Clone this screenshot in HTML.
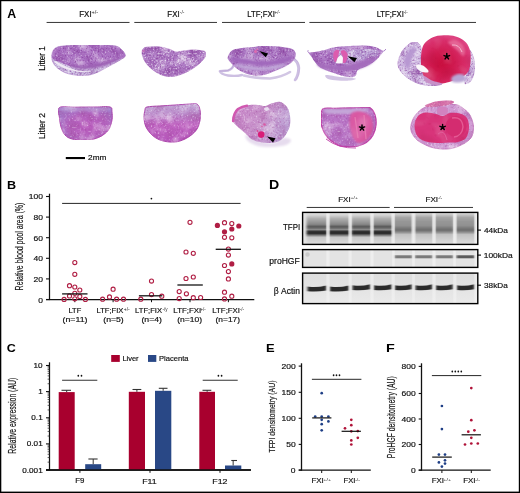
<!DOCTYPE html><html><head><meta charset="utf-8"><style>html,body{margin:0;padding:0;background:#fff;overflow:hidden}svg{display:block;will-change:transform}text{font-family:"Liberation Sans",sans-serif}</style></head><body>
<svg xmlns="http://www.w3.org/2000/svg" width="520" height="493" viewBox="0 0 520 493">
<defs>
<filter id="tex" x="0" y="0" width="100%" height="100%" color-interpolation-filters="sRGB"><feTurbulence type="fractalNoise" baseFrequency="0.6" numOctaves="2" seed="3" result="n0"/><feGaussianBlur in="n0" stdDeviation="0.4" result="n"/><feTurbulence type="fractalNoise" baseFrequency="0.09" numOctaves="2" seed="14" result="c"/><feColorMatrix in="c" type="matrix" values="0 0 0 0 1  0 0 0 0 1  0 0 0 0 1  1.6 0 0 0 -0.82" result="cw"/><feComposite in="cw" in2="SourceGraphic" operator="in" result="cwi"/><feColorMatrix in="c" type="matrix" values="0 0 0 0 0.5  0 0 0 0 0.2  0 0 0 0 0.58  -1.6 0 0 0 0.78" result="cd"/><feComposite in="cd" in2="SourceGraphic" operator="in" result="cdi"/><feColorMatrix in="n" type="matrix" values="0 0 0 0 1  0 0 0 0 1  0 0 0 0 1  1.7 0 0 0 -1" result="w"/><feComposite in="w" in2="SourceGraphic" operator="in" result="wi"/><feColorMatrix in="n" type="matrix" values="0 0 0 0 0.5  0 0 0 0 0.2  0 0 0 0 0.58  -2.2 0 0 0 1" result="d"/><feComposite in="d" in2="SourceGraphic" operator="in" result="di"/><feMerge><feMergeNode in="SourceGraphic"/><feMergeNode in="cwi"/><feMergeNode in="cdi"/><feMergeNode in="wi"/><feMergeNode in="di"/></feMerge></filter>
<filter id="texw" x="0" y="0" width="100%" height="100%" color-interpolation-filters="sRGB"><feTurbulence type="fractalNoise" baseFrequency="0.6" numOctaves="2" seed="5" result="n0"/><feGaussianBlur in="n0" stdDeviation="0.4" result="n"/><feTurbulence type="fractalNoise" baseFrequency="0.09" numOctaves="2" seed="16" result="c"/><feColorMatrix in="c" type="matrix" values="0 0 0 0 1  0 0 0 0 1  0 0 0 0 1  1.6 0 0 0 -0.82" result="cw"/><feComposite in="cw" in2="SourceGraphic" operator="in" result="cwi"/><feColorMatrix in="c" type="matrix" values="0 0 0 0 0.5  0 0 0 0 0.2  0 0 0 0 0.58  -1.6 0 0 0 0.78" result="cd"/><feComposite in="cd" in2="SourceGraphic" operator="in" result="cdi"/><feColorMatrix in="n" type="matrix" values="0 0 0 0 1  0 0 0 0 1  0 0 0 0 1  2.2 0 0 0 -1.2" result="w"/><feComposite in="w" in2="SourceGraphic" operator="in" result="wi"/><feColorMatrix in="n" type="matrix" values="0 0 0 0 0.5  0 0 0 0 0.2  0 0 0 0 0.58  -2 0 0 0 0.92" result="d"/><feComposite in="d" in2="SourceGraphic" operator="in" result="di"/><feMerge><feMergeNode in="SourceGraphic"/><feMergeNode in="cwi"/><feMergeNode in="cdi"/><feMergeNode in="wi"/><feMergeNode in="di"/></feMerge></filter>
<filter id="texp" x="0" y="0" width="100%" height="100%" color-interpolation-filters="sRGB"><feTurbulence type="fractalNoise" baseFrequency="0.55" numOctaves="2" seed="9" result="n0"/><feGaussianBlur in="n0" stdDeviation="0.5" result="n"/><feTurbulence type="fractalNoise" baseFrequency="0.09" numOctaves="2" seed="20" result="c"/><feColorMatrix in="c" type="matrix" values="0 0 0 0 1  0 0 0 0 1  0 0 0 0 1  1.3 0 0 0 -0.67" result="cw"/><feComposite in="cw" in2="SourceGraphic" operator="in" result="cwi"/><feColorMatrix in="c" type="matrix" values="0 0 0 0 0.62  0 0 0 0 0.28  0 0 0 0 0.6  -1.3 0 0 0 0.63" result="cd"/><feComposite in="cd" in2="SourceGraphic" operator="in" result="cdi"/><feColorMatrix in="n" type="matrix" values="0 0 0 0 1  0 0 0 0 1  0 0 0 0 1  1.6 0 0 0 -0.95" result="w"/><feComposite in="w" in2="SourceGraphic" operator="in" result="wi"/><feColorMatrix in="n" type="matrix" values="0 0 0 0 0.62  0 0 0 0 0.28  0 0 0 0 0.6  -1.4 0 0 0 0.62" result="d"/><feComposite in="d" in2="SourceGraphic" operator="in" result="di"/><feMerge><feMergeNode in="SourceGraphic"/><feMergeNode in="cwi"/><feMergeNode in="cdi"/><feMergeNode in="wi"/><feMergeNode in="di"/></feMerge></filter>
<filter id="texs" x="0" y="0" width="100%" height="100%" color-interpolation-filters="sRGB"><feTurbulence type="fractalNoise" baseFrequency="0.35" numOctaves="2" seed="7" result="n0"/><feGaussianBlur in="n0" stdDeviation="0.8" result="n"/><feTurbulence type="fractalNoise" baseFrequency="0.06" numOctaves="2" seed="18" result="c"/><feColorMatrix in="c" type="matrix" values="0 0 0 0 1  0 0 0 0 1  0 0 0 0 1  0.55 0 0 0 -0.295" result="cw"/><feComposite in="cw" in2="SourceGraphic" operator="in" result="cwi"/><feColorMatrix in="c" type="matrix" values="0 0 0 0 0.6  0 0 0 0 0.04  0 0 0 0 0.2  -0.55 0 0 0 0.255" result="cd"/><feComposite in="cd" in2="SourceGraphic" operator="in" result="cdi"/><feColorMatrix in="n" type="matrix" values="0 0 0 0 1  0 0 0 0 1  0 0 0 0 1  1 0 0 0 -0.62" result="w"/><feComposite in="w" in2="SourceGraphic" operator="in" result="wi"/><feColorMatrix in="n" type="matrix" values="0 0 0 0 0.6  0 0 0 0 0.04  0 0 0 0 0.2  -1.4 0 0 0 0.6" result="d"/><feComposite in="d" in2="SourceGraphic" operator="in" result="di"/><feMerge><feMergeNode in="SourceGraphic"/><feMergeNode in="cwi"/><feMergeNode in="cdi"/><feMergeNode in="wi"/><feMergeNode in="di"/></feMerge></filter>
<filter id="blur1"><feGaussianBlur stdDeviation="1.2"/></filter>
<filter id="blur05"><feGaussianBlur stdDeviation="0.6"/></filter>
<filter id="blur2"><feGaussianBlur stdDeviation="2.5"/></filter>
</defs>
<rect x="0" y="0" width="520" height="493" fill="#fff"/>
<line x1="46.60" y1="22.45" x2="129.50" y2="22.45" stroke="#363636" stroke-width="1.00"/>
<line x1="134.30" y1="22.45" x2="217.00" y2="22.45" stroke="#363636" stroke-width="1.00"/>
<line x1="222.00" y1="22.45" x2="305.00" y2="22.45" stroke="#363636" stroke-width="1.00"/>
<line x1="309.40" y1="22.45" x2="476.00" y2="22.45" stroke="#363636" stroke-width="1.00"/>
<rect x="65.80" y="157.00" width="19.20" height="2.10" fill="#000"/>
<path d="M51.8,57.0 C51.8,55.2 52.1,52.6 53.0,51.0 C53.9,49.4 54.8,48.1 57.0,47.2 C59.2,46.3 62.2,46.1 66.0,45.8 C69.8,45.5 75.2,45.3 80.0,45.2 C84.8,45.1 90.3,45.0 95.0,45.0 C99.7,45.0 104.3,45.0 108.0,45.3 C111.7,45.5 114.7,45.7 117.0,46.5 C119.3,47.3 120.6,48.5 122.0,50.0 C123.4,51.5 125.6,54.1 125.3,55.8 C125.0,57.5 122.5,58.4 120.0,60.0 C117.5,61.6 113.3,63.7 110.0,65.5 C106.7,67.3 103.3,69.5 100.0,71.0 C96.7,72.5 93.7,74.1 90.0,74.8 C86.3,75.5 82.0,75.6 78.0,75.3 C74.0,75.0 69.5,74.3 66.0,73.0 C62.5,71.7 59.2,69.3 57.0,67.5 C54.8,65.7 53.9,63.8 53.0,62.0 C52.1,60.2 51.8,58.8 51.8,57.0 Z" fill="#c8b6de" filter="url(#texw)" stroke="#a878c4" stroke-width="0.6"/>
<path d="M51.8,57.0 C51.5,55.5 52.1,52.6 53.0,51.0 C53.9,49.4 54.8,48.1 57.0,47.2 C59.2,46.3 62.2,46.1 66.0,45.8 C69.8,45.5 75.2,45.3 80.0,45.2 C84.8,45.1 90.3,45.0 95.0,45.0 C99.7,45.0 104.3,45.0 108.0,45.3 C111.7,45.5 114.7,45.7 117.0,46.5 C119.3,47.3 120.6,48.5 122.0,50.0 C123.4,51.5 125.6,54.3 125.3,55.8 C125.0,57.3 122.5,57.9 120.0,59.0 C117.5,60.1 113.7,61.4 110.0,62.5 C106.3,63.6 102.2,64.7 98.0,65.5 C93.8,66.3 89.3,67.3 85.0,67.5 C80.7,67.7 75.8,67.2 72.0,66.5 C68.2,65.8 64.8,64.1 62.0,63.0 C59.2,61.9 56.7,61.0 55.0,60.0 C53.3,59.0 52.1,58.5 51.8,57.0 Z" fill="#ac74c4" filter="url(#tex)"/>
<path d="M70.0,65.0 C71.8,64.7 79.3,65.8 84.0,65.5 C88.7,65.2 93.7,64.4 98.0,63.5 C102.3,62.6 106.5,61.0 110.0,60.0 C113.5,59.0 118.5,57.1 119.0,57.5 C119.5,57.9 116.2,60.9 113.0,62.5 C109.8,64.1 104.7,65.9 100.0,67.0 C95.3,68.1 89.5,68.9 85.0,69.0 C80.5,69.1 75.5,68.2 73.0,67.5 C70.5,66.8 68.2,65.3 70.0,65.0 Z" fill="#9c60b4" filter="url(#blur1)"/>
<path d="M55.0,61.0 C56.5,61.4 61.2,64.4 65.0,66.0 C68.8,67.6 73.5,69.6 78.0,70.5 C82.5,71.4 91.7,71.2 92.0,71.5 C92.3,71.8 84.3,72.4 80.0,72.0 C75.7,71.6 70.0,70.4 66.0,69.0 C62.0,67.6 57.8,64.8 56.0,63.5 C54.2,62.2 53.5,60.6 55.0,61.0 Z" fill="#efe8f4" filter="url(#blur05)"/>
<path d="M142.0,52.0 C142.2,50.5 142.7,48.8 144.0,48.0 C145.3,47.2 147.3,47.2 150.0,47.0 C152.7,46.8 156.7,46.6 160.0,47.0 C163.3,47.4 167.3,48.7 170.0,49.5 C172.7,50.3 173.8,51.8 176.0,52.0 C178.2,52.2 180.3,51.3 183.0,51.0 C185.7,50.7 189.2,50.1 192.0,50.0 C194.8,49.9 197.8,50.2 200.0,50.5 C202.2,50.8 204.7,50.9 205.5,52.0 C206.3,53.1 205.9,55.2 205.0,57.0 C204.1,58.8 202.2,61.0 200.0,63.0 C197.8,65.0 195.0,67.2 192.0,69.0 C189.0,70.8 185.3,72.8 182.0,74.0 C178.7,75.2 175.3,76.3 172.0,76.5 C168.7,76.7 165.2,76.1 162.0,75.0 C158.8,73.9 155.7,72.0 153.0,70.0 C150.3,68.0 147.7,65.2 146.0,63.0 C144.3,60.8 143.7,58.8 143.0,57.0 C142.3,55.2 141.8,53.5 142.0,52.0 Z" fill="#b07ec6" filter="url(#texw)" stroke="#a060b8" stroke-width="0.5"/>
<circle cx="143.50" cy="51.00" r="1.30" fill="#c070b8" stroke="none" stroke-width="1.00"/>
<path d="M234,64 Q233,69 228,70.5 Q222,71 219.8,71.2 Q221,74.5 228,75.5 Q236,76.5 242,75" fill="none" stroke="#cdbfe2" stroke-width="2.4" stroke-linecap="round" stroke-linejoin="round"/>
<path d="M234,64 Q233,69 228,70.5 Q222,71 219.8,71.2" fill="none" stroke="#b69ad2" stroke-width="0.6"/>
<path d="M292,58 Q298,61 298.5,68 Q298.5,75 295,80" fill="none" stroke="#cdbfe2" stroke-width="2.6" stroke-linecap="round"/>
<path d="M293.5,58 Q299.5,61 299.8,68 Q299.8,75 296.5,80.3" fill="none" stroke="#b69ad2" stroke-width="0.5"/>
<path d="M244,75.5 Q256,78.5 270,78.5 Q282,77 290,72" fill="none" stroke="#d2c6e4" stroke-width="2.6" stroke-linecap="round"/>
<path d="M227.7,57.5 C227.9,56.2 228.9,53.8 230.0,52.5 C231.1,51.2 232.2,50.2 234.2,49.5 C236.2,48.8 239.3,48.4 242.0,48.0 C244.7,47.6 247.0,47.6 250.3,47.3 C253.6,47.0 257.9,46.3 262.0,46.1 C266.1,45.9 271.2,46.1 275.0,46.3 C278.8,46.5 282.1,47.0 285.0,47.5 C287.9,48.0 290.6,48.1 292.3,49.0 C294.1,49.9 295.1,51.5 295.5,53.0 C295.9,54.5 295.8,56.3 295.0,58.0 C294.2,59.7 292.8,61.5 291.0,63.0 C289.2,64.5 286.7,65.7 284.0,67.0 C281.3,68.3 278.2,69.7 275.0,71.0 C271.8,72.3 268.3,74.0 265.0,74.7 C261.7,75.5 258.2,75.7 255.0,75.5 C251.8,75.3 248.8,74.5 246.0,73.5 C243.2,72.5 240.3,71.1 238.0,69.5 C235.7,67.9 233.6,65.6 232.0,64.0 C230.4,62.4 229.2,61.1 228.5,60.0 C227.8,58.9 227.4,58.8 227.7,57.5 Z" fill="#ae7cc6" filter="url(#tex)"/>
<path d="M230.0,57.0 C232.0,56.7 240.0,58.3 245.0,59.0 C250.0,59.7 255.0,60.8 260.0,61.0 C265.0,61.2 269.7,60.9 275.0,60.0 C280.3,59.1 289.5,55.3 292.0,55.5 C294.5,55.7 292.7,59.5 290.0,61.0 C287.3,62.5 281.0,63.8 276.0,64.5 C271.0,65.2 265.3,65.7 260.0,65.5 C254.7,65.3 248.5,64.2 244.0,63.5 C239.5,62.8 235.3,62.1 233.0,61.0 C230.7,59.9 228.0,57.3 230.0,57.0 Z" fill="#a068bc" filter="url(#blur1)"/>
<path d="M236.0,64.0 C238.0,63.8 245.2,65.5 250.0,66.0 C254.8,66.5 259.7,67.3 265.0,67.0 C270.3,66.7 278.5,64.3 282.0,64.0 C285.5,63.7 287.0,64.2 286.0,65.0 C285.0,65.8 280.0,68.1 276.0,69.0 C272.0,69.9 266.7,70.4 262.0,70.5 C257.3,70.6 252.0,70.1 248.0,69.5 C244.0,68.9 240.0,67.9 238.0,67.0 C236.0,66.1 234.0,64.2 236.0,64.0 Z" fill="#c0a6d8" filter="url(#blur1)"/>
<circle cx="255.50" cy="51.50" r="1.50" fill="#dc6cb0" stroke="none" stroke-width="1.00"/>
<circle cx="257.20" cy="49.40" r="0.90" fill="#dc6cb0" stroke="none" stroke-width="1.00"/>
<polygon points="259.3,51.1 268.1,53.5 265.7,57.2" fill="#000"/>
<path d="M326.0,75.0 C328.0,74.7 335.7,76.5 340.0,77.0 C344.3,77.5 349.3,77.7 352.0,78.0 C354.7,78.3 356.3,78.6 356.0,79.0 C355.7,79.4 353.0,80.2 350.0,80.5 C347.0,80.8 341.7,80.8 338.0,80.5 C334.3,80.2 330.0,79.9 328.0,79.0 C326.0,78.1 324.0,75.3 326.0,75.0 Z" fill="#d2c4e4" filter="url(#blur05)"/>
<path d="M308.8,52.9 C309.0,52.3 310.5,52.5 312.0,52.3 C313.5,52.1 315.8,51.9 318.0,51.5 C320.2,51.1 322.2,50.7 325.0,50.0 C327.8,49.3 330.5,47.9 334.7,47.3 C338.9,46.6 344.9,46.4 350.0,46.1 C355.1,45.8 360.8,45.5 365.0,45.6 C369.2,45.8 372.5,46.4 375.0,47.0 C377.5,47.6 378.6,48.6 380.0,49.3 C381.4,50.0 383.0,50.4 383.2,51.3 C383.4,52.2 382.2,53.0 381.0,54.5 C379.8,56.0 378.1,58.4 375.9,60.2 C373.7,62.0 371.0,63.9 368.0,65.5 C365.0,67.1 360.0,68.4 358.0,70.0 C356.0,71.6 357.0,73.8 356.0,75.0 C355.0,76.2 353.8,77.0 352.0,77.2 C350.2,77.5 347.3,77.0 345.0,76.5 C342.7,76.0 340.8,75.4 338.0,74.5 C335.2,73.6 331.0,72.2 328.0,71.0 C325.0,69.8 322.4,69.0 320.2,67.5 C318.0,66.0 316.5,63.9 315.0,62.0 C313.5,60.1 312.0,57.5 311.0,56.0 C310.0,54.5 308.6,53.5 308.8,52.9 Z" fill="#ae7ac6" filter="url(#tex)"/>
<path d="M308.8,52.9 Q307,51 308.2,50.2" fill="none" stroke="#b088cc" stroke-width="1"/>
<path d="M383.2,51.3 Q385.5,50.5 385.8,49" fill="none" stroke="#b088cc" stroke-width="1"/>
<path d="M346.0,53.0 C347.5,51.4 352.3,50.2 356.0,49.5 C359.7,48.8 364.3,48.8 368.0,49.0 C371.7,49.2 376.7,49.8 378.0,51.0 C379.3,52.2 378.0,54.6 376.0,56.0 C374.0,57.4 369.7,58.7 366.0,59.5 C362.3,60.3 357.2,61.1 354.0,61.0 C350.8,60.9 348.3,60.3 347.0,59.0 C345.7,57.7 344.5,54.6 346.0,53.0 Z" fill="#baa0d6" filter="url(#texw)"/>
<path d="M318.0,63.0 C320.5,62.8 329.7,65.8 335.0,66.0 C340.3,66.2 345.0,65.5 350.0,64.5 C355.0,63.5 360.7,61.2 365.0,60.0 C369.3,58.8 375.2,56.8 376.0,57.5 C376.8,58.2 373.0,62.1 370.0,64.0 C367.0,65.9 362.2,67.8 358.0,69.0 C353.8,70.2 349.7,70.9 345.0,71.0 C340.3,71.1 334.2,70.2 330.0,69.5 C325.8,68.8 322.0,68.1 320.0,67.0 C318.0,65.9 315.5,63.2 318.0,63.0 Z" fill="#a46cbc" filter="url(#blur1)"/>
<path d="M333.5,53.0 C333.9,51.7 335.1,50.4 336.0,50.0 C336.9,49.6 338.6,49.7 339.0,50.5 C339.4,51.3 338.8,53.4 338.5,55.0 C338.2,56.6 337.6,58.8 337.0,60.0 C336.4,61.2 335.6,62.3 335.0,62.0 C334.4,61.7 333.8,59.5 333.5,58.0 C333.2,56.5 333.1,54.3 333.5,53.0 Z" fill="#dc5cae" filter="url(#blur05)"/>
<path d="M341.0,51.0 C341.5,50.4 343.4,50.0 344.5,50.5 C345.6,51.0 347.1,52.6 347.5,54.0 C347.9,55.4 347.4,57.5 347.0,59.0 C346.6,60.5 345.8,62.3 345.0,62.8 C344.2,63.3 342.8,63.0 342.5,62.0 C342.2,61.0 343.2,58.3 343.0,57.0 C342.8,55.7 341.8,55.0 341.5,54.0 C341.2,53.0 340.5,51.6 341.0,51.0 Z" fill="#dc5cae" filter="url(#blur05)"/>
<polygon points="335.8,63.2 337.5,58.0 340.8,54.8 343.0,57.5 342.6,63.4" fill="#fbf7fb"/>
<polygon points="347.6,56.2 357.0,58.1 354.4,62.3" fill="#000"/>
<path d="M398.0,65.0 C397.6,62.3 398.7,59.5 399.5,57.0 C400.3,54.5 401.6,52.0 403.0,50.0 C404.4,48.0 406.4,46.3 408.0,45.0 C409.6,43.7 410.8,42.6 412.5,42.3 C414.2,42.0 416.6,42.0 418.0,43.0 C419.4,44.0 420.4,45.5 421.0,48.0 C421.6,50.5 421.2,54.8 421.5,58.0 C421.8,61.2 421.9,64.2 423.0,67.0 C424.1,69.8 425.8,72.7 428.0,75.0 C430.2,77.3 433.7,79.5 436.0,81.0 C438.3,82.5 442.7,83.2 442.0,84.0 C441.3,84.8 435.7,85.5 432.0,85.5 C428.3,85.5 423.7,85.0 420.0,84.0 C416.3,83.0 413.0,81.3 410.0,79.5 C407.0,77.7 404.0,75.4 402.0,73.0 C400.0,70.6 398.4,67.7 398.0,65.0 Z" fill="#cdb6e0" filter="url(#texw)" stroke="#b890d0" stroke-width="0.6"/>
<path d="M404.0,60.0 C404.3,57.3 406.5,54.2 408.0,52.0 C409.5,49.8 411.7,47.3 413.0,47.0 C414.3,46.7 416.2,48.2 416.0,50.0 C415.8,51.8 413.0,55.3 412.0,58.0 C411.0,60.7 411.0,64.3 410.0,66.0 C409.0,67.7 407.0,69.0 406.0,68.0 C405.0,67.0 403.7,62.7 404.0,60.0 Z" fill="#b898d2" filter="url(#blur1)"/>
<path d="M467.0,50.0 C467.3,47.8 469.8,49.3 471.0,51.0 C472.2,52.7 473.9,56.8 474.5,60.0 C475.1,63.2 475.1,67.0 474.8,70.0 C474.6,73.0 474.0,75.8 473.0,78.0 C472.0,80.2 470.5,82.1 469.0,83.0 C467.5,83.9 464.5,84.8 464.0,83.5 C463.5,82.2 465.2,78.2 466.0,75.0 C466.8,71.8 468.8,68.2 469.0,64.0 C469.2,59.8 466.7,52.2 467.0,50.0 Z" fill="#ccb4de" filter="url(#texw)"/>
<radialGradient id="g5" cx="0.42" cy="0.6" r="0.62"><stop offset="0" stop-color="#c80e3e"/><stop offset="0.4" stop-color="#d01a50"/><stop offset="0.75" stop-color="#d82c68"/><stop offset="1" stop-color="#dc3c7c"/></radialGradient>
<path d="M421.0,57.0 C421.2,53.3 421.7,48.9 423.0,46.0 C424.3,43.1 426.6,41.2 429.0,39.5 C431.4,37.8 434.3,36.5 437.5,35.8 C440.7,35.1 444.6,35.1 448.0,35.3 C451.4,35.5 455.0,36.0 458.0,37.2 C461.0,38.4 464.0,40.2 466.0,42.5 C468.0,44.8 469.4,47.9 470.2,51.0 C470.9,54.1 470.7,57.8 470.5,61.0 C470.3,64.2 470.1,67.5 469.0,70.0 C467.9,72.5 466.2,74.4 464.0,76.0 C461.8,77.6 458.8,78.4 456.0,79.5 C453.2,80.6 449.7,81.8 447.0,82.5 C444.3,83.2 442.5,83.7 440.0,83.5 C437.5,83.3 434.6,82.6 432.0,81.5 C429.4,80.4 426.2,79.2 424.5,77.0 C422.8,74.8 422.1,71.3 421.5,68.0 C420.9,64.7 420.8,60.7 421.0,57.0 Z" fill="url(#g5)" filter="url(#texs)"/>
<path d="M448.0,42.0 C448.5,41.0 452.7,39.7 455.0,40.0 C457.3,40.3 460.3,42.2 462.0,44.0 C463.7,45.8 464.8,49.0 465.0,51.0 C465.2,53.0 464.2,56.0 463.0,56.0 C461.8,56.0 459.8,52.7 458.0,51.0 C456.2,49.3 453.7,47.5 452.0,46.0 C450.3,44.5 447.5,43.0 448.0,42.0 Z" fill="#e8709e" filter="url(#blur1)" opacity="0.8"/>
<path d="M452,45 Q459,44 462,52" fill="none" stroke="#f4b4cc" stroke-width="1" filter="url(#blur05)"/>
<path d="M417.0,64.5 C418.1,64.2 421.2,64.6 423.0,65.5 C424.8,66.4 427.2,68.8 428.0,70.0 C428.8,71.2 428.7,72.2 427.5,72.5 C426.3,72.8 422.8,72.3 421.0,71.5 C419.2,70.7 417.2,68.7 416.5,67.5 C415.8,66.3 415.9,64.8 417.0,64.5 Z" fill="#faf6fa" filter="url(#blur05)"/>
<path d="M452.0,77.0 C453.0,75.8 456.0,74.3 458.0,74.0 C460.0,73.7 462.7,74.0 464.0,75.0 C465.3,76.0 466.8,78.8 466.0,80.0 C465.2,81.2 461.3,82.2 459.0,82.5 C456.7,82.8 453.2,82.4 452.0,81.5 C450.8,80.6 451.0,78.2 452.0,77.0 Z" fill="#b8a4d4" filter="url(#blur1)"/>
<path d="M424.0,76.0 C425.0,75.8 429.0,79.2 432.0,80.5 C435.0,81.8 441.3,82.8 442.0,83.5 C442.7,84.2 438.7,85.2 436.0,85.0 C433.3,84.8 428.0,83.5 426.0,82.0 C424.0,80.5 423.0,76.2 424.0,76.0 Z" fill="#c890c8" filter="url(#blur05)"/>
<path d="M446.80,56.50 L446.80,53.60 M446.80,56.50 L449.56,55.60 M446.80,56.50 L448.50,58.85 M446.80,56.50 L445.10,58.85 M446.80,56.50 L444.04,55.60 " stroke="#000" stroke-width="1.50" stroke-linecap="round" fill="none"/>
<radialGradient id="g6" cx="0.55" cy="0.6" r="0.62"><stop offset="0" stop-color="#ba5cbe"/><stop offset="0.6" stop-color="#b466c0"/><stop offset="1" stop-color="#a47ccc"/></radialGradient>
<path d="M59.5,107.5 C62.1,105.7 69.1,107.3 75.0,107.2 C80.9,107.1 89.2,107.0 95.0,107.0 C100.8,107.0 107.2,106.2 110.0,107.0 C112.8,107.8 111.7,109.8 112.0,112.0 C112.3,114.2 112.5,117.2 112.0,120.0 C111.5,122.8 110.5,126.5 109.0,129.0 C107.5,131.5 105.5,133.3 103.0,135.0 C100.5,136.7 97.2,138.2 94.0,139.0 C90.8,139.8 87.7,140.0 84.0,140.0 C80.3,140.0 75.2,139.8 72.0,139.0 C68.8,138.2 66.8,137.0 65.0,135.0 C63.2,133.0 61.9,129.8 61.0,127.0 C60.1,124.2 59.8,121.2 59.5,118.0 C59.2,114.8 56.9,109.3 59.5,107.5 Z" fill="url(#g6)" filter="url(#texp)" stroke="#a83aa8" stroke-width="0.9"/>
<path d="M60.0,108.0 C62.5,107.3 73.3,107.6 80.0,107.5 C86.7,107.4 95.0,107.4 100.0,107.5 C105.0,107.6 109.2,107.4 110.0,108.0 C110.8,108.6 109.2,110.5 105.0,111.0 C100.8,111.5 91.7,110.9 85.0,111.0 C78.3,111.1 69.2,112.0 65.0,111.5 C60.8,111.0 57.5,108.7 60.0,108.0 Z" fill="#c0a0d4" filter="url(#blur1)" opacity="0.55"/>
<linearGradient id="g7" x1="0" y1="0" x2="0" y2="1"><stop offset="0" stop-color="#c4acd8"/><stop offset="0.28" stop-color="#bc8ccc"/><stop offset="0.55" stop-color="#c064c2"/><stop offset="1" stop-color="#b658bc"/></linearGradient>
<path d="M147.0,107.0 C149.5,106.3 155.3,106.3 160.0,106.0 C164.7,105.7 170.0,105.3 175.0,105.0 C180.0,104.7 186.3,104.2 190.0,104.0 C193.7,103.8 195.3,103.0 197.0,104.0 C198.7,105.0 199.5,107.3 200.0,110.0 C200.5,112.7 200.5,116.8 200.0,120.0 C199.5,123.2 198.7,126.3 197.0,129.0 C195.3,131.7 192.8,134.0 190.0,136.0 C187.2,138.0 183.3,140.0 180.0,141.0 C176.7,142.0 173.3,142.2 170.0,142.0 C166.7,141.8 163.0,141.2 160.0,140.0 C157.0,138.8 154.3,137.2 152.0,135.0 C149.7,132.8 147.3,129.8 146.0,127.0 C144.7,124.2 144.2,120.8 144.0,118.0 C143.8,115.2 144.5,111.8 145.0,110.0 C145.5,108.2 144.5,107.7 147.0,107.0 Z" fill="url(#g7)" filter="url(#texp)" stroke="#a83aa8" stroke-width="0.9"/>
<path d="M246.0,135.0 C247.7,134.8 253.7,138.7 258.0,140.0 C262.3,141.3 267.7,143.3 272.0,143.0 C276.3,142.7 280.8,138.5 284.0,138.0 C287.2,137.5 290.7,138.8 291.0,140.0 C291.3,141.2 289.2,143.8 286.0,145.0 C282.8,146.2 276.7,146.8 272.0,147.0 C267.3,147.2 262.0,147.0 258.0,146.0 C254.0,145.0 250.0,142.8 248.0,141.0 C246.0,139.2 244.3,135.2 246.0,135.0 Z" fill="#e6dcee" filter="url(#blur1)"/>
<linearGradient id="g8" x1="0" y1="0" x2="1" y2="0.3"><stop offset="0" stop-color="#cc8ccc"/><stop offset="0.6" stop-color="#c894cc"/><stop offset="1" stop-color="#bea0d4"/></linearGradient>
<path d="M232.4,119.9 C232.1,117.4 234.5,114.0 236.1,111.8 C237.7,109.6 239.5,107.9 241.8,106.8 C244.1,105.7 247.2,105.2 249.9,104.9 C252.6,104.6 255.4,104.8 258.0,105.0 C260.6,105.2 263.2,106.3 265.5,106.0 C267.8,105.7 269.4,104.0 271.8,103.3 C274.2,102.6 277.4,101.2 279.9,101.8 C282.4,102.4 285.1,104.6 286.8,106.8 C288.5,109.0 289.4,111.9 289.9,114.9 C290.4,117.9 290.5,122.0 290.0,125.0 C289.5,128.0 288.3,130.5 286.8,133.0 C285.3,135.5 283.5,138.2 281.0,139.9 C278.5,141.6 275.3,142.7 271.8,143.0 C268.3,143.3 263.3,142.6 260.0,142.0 C256.7,141.4 254.3,140.8 251.8,139.3 C249.3,137.8 247.3,135.1 245.0,133.0 C242.7,130.9 240.1,129.2 238.0,127.0 C235.9,124.8 232.7,122.4 232.4,119.9 Z" fill="url(#g8)" filter="url(#texp)"/>
<path d="M233.2,121 Q233.5,113 238,109 Q242,106.5 247,105.8" fill="none" stroke="#d058b0" stroke-width="2.6" stroke-linecap="round" filter="url(#blur05)"/>
<path d="M264.0,108.5 C264.2,107.8 266.7,106.8 267.5,107.0 C268.3,107.2 269.2,108.8 269.0,109.5 C268.8,110.2 266.8,111.2 266.0,111.0 C265.2,110.8 263.8,109.2 264.0,108.5 Z" fill="#eadcf0" filter="url(#blur05)"/>
<circle cx="261.20" cy="134.60" r="3.30" fill="#d81e78" stroke="none" stroke-width="1.00"/>
<circle cx="257.50" cy="131.00" r="1.00" fill="#d44a98" stroke="none" stroke-width="1.00"/>
<circle cx="264.50" cy="124.50" r="1.30" fill="#d85aa4" stroke="none" stroke-width="1.00"/>
<circle cx="262.00" cy="126.50" r="0.80" fill="#d85aa4" stroke="none" stroke-width="1.00"/>
<polygon points="267.0,136.5 275.5,138.3 273.0,142.4" fill="#000"/>
<path d="M323.1,108.8 C325.4,107.4 330.5,108.5 335.0,108.4 C339.5,108.3 345.5,108.1 350.0,108.0 C354.5,107.9 358.7,107.7 362.0,107.7 C365.3,107.7 367.8,106.6 370.0,107.8 C372.2,109.0 374.0,112.1 375.0,115.0 C376.0,117.9 376.3,121.7 376.0,125.0 C375.7,128.3 374.7,132.1 373.1,135.0 C371.5,137.9 368.8,140.7 366.3,142.5 C363.8,144.3 360.4,145.3 358.0,146.0 C355.6,146.7 354.2,146.8 351.9,146.9 C349.6,147.0 346.3,146.8 344.0,146.5 C341.7,146.2 340.8,146.4 338.1,145.0 C335.5,143.6 330.8,141.1 328.1,138.1 C325.4,135.1 323.0,130.4 321.9,126.9 C320.8,123.4 321.1,119.9 321.3,116.9 C321.5,113.9 320.8,110.2 323.1,108.8 Z" fill="#b874c6" filter="url(#texp)" stroke="#c040a8" stroke-width="1.3"/>
<path d="M324.0,109.5 C326.0,108.8 334.0,109.2 340.0,109.0 C346.0,108.8 355.2,108.6 360.0,108.6 C364.8,108.6 368.7,108.3 369.0,109.0 C369.3,109.7 366.0,112.2 362.0,113.0 C358.0,113.8 350.7,113.9 345.0,114.0 C339.3,114.1 331.5,114.2 328.0,113.5 C324.5,112.8 322.0,110.2 324.0,109.5 Z" fill="#c4a6d8" filter="url(#blur1)"/>
<g filter="url(#blur1)">
<path d="M351.0,114.0 C352.1,112.4 354.0,111.8 356.0,111.5 C358.0,111.2 360.7,111.2 363.0,112.0 C365.3,112.8 368.3,114.0 370.0,116.0 C371.7,118.0 372.7,121.2 373.0,124.0 C373.3,126.8 373.0,130.3 372.0,133.0 C371.0,135.7 369.0,138.3 367.0,140.0 C365.0,141.7 362.0,142.8 360.0,143.0 C358.0,143.2 356.3,142.3 355.0,141.0 C353.7,139.7 352.8,137.2 352.0,135.0 C351.2,132.8 350.4,130.3 350.0,128.0 C349.6,125.7 349.3,123.3 349.5,121.0 C349.7,118.7 349.9,115.6 351.0,114.0 Z" fill="#da5aa4" filter="url(#texs)"/>
</g>
<line x1="355.0" y1="117.0" x2="358.0" y2="138.0" stroke="#ea86b8" stroke-width="1.3" opacity="0.7" filter="url(#blur05)"/>
<line x1="364.0" y1="115.0" x2="366.0" y2="139.0" stroke="#ea86b8" stroke-width="1.3" opacity="0.7" filter="url(#blur05)"/>
<path d="M326,139 Q338,148.5 356,148" fill="none" stroke="#c040a8" stroke-width="0.9"/>
<path d="M362.00,127.80 L362.00,125.00 M362.00,127.80 L364.66,126.93 M362.00,127.80 L363.65,130.07 M362.00,127.80 L360.35,130.07 M362.00,127.80 L359.34,126.93 " stroke="#000" stroke-width="1.45" stroke-linecap="round" fill="none"/>
<path d="M410.8,129.6 C410.3,126.3 411.6,122.1 413.0,119.0 C414.4,115.9 416.9,113.1 419.4,110.9 C421.9,108.7 424.6,107.1 428.0,106.0 C431.4,104.9 435.4,104.8 440.0,104.5 C444.6,104.2 451.5,103.7 455.5,104.4 C459.5,105.2 461.6,107.2 464.0,109.0 C466.4,110.8 468.4,112.4 470.0,115.2 C471.6,118.0 473.2,122.5 473.5,126.0 C473.8,129.5 473.3,133.2 472.0,136.0 C470.7,138.8 468.4,140.7 465.6,142.6 C462.8,144.5 458.4,146.4 455.0,147.5 C451.6,148.6 448.9,149.0 445.4,149.1 C441.9,149.2 437.4,148.7 434.0,148.0 C430.6,147.3 428.2,146.3 425.2,144.8 C422.2,143.3 418.4,141.5 416.0,139.0 C413.6,136.5 411.3,132.9 410.8,129.6 Z" fill="#d09cd4" filter="url(#texp)" stroke="#c070b8" stroke-width="0.7"/>
<path d="M425.0,105.5 C426.0,104.6 431.8,102.3 436.0,101.5 C440.2,100.7 447.0,100.4 450.0,100.6 C453.0,100.8 454.7,101.7 454.0,102.5 C453.3,103.3 450.0,104.8 446.0,105.5 C442.0,106.2 433.5,107.0 430.0,107.0 C426.5,107.0 424.0,106.4 425.0,105.5 Z" fill="#d670a8" filter="url(#texp)"/>
<path d="M414.5,126.0 C414.5,122.5 416.1,118.2 418.0,116.0 C419.9,113.8 423.0,112.8 426.0,112.5 C429.0,112.2 433.2,113.4 436.0,114.0 C438.8,114.6 440.7,116.2 443.0,116.0 C445.3,115.8 447.2,113.4 450.0,113.0 C452.8,112.6 457.2,112.7 460.0,113.5 C462.8,114.3 465.5,115.6 467.0,118.0 C468.5,120.4 469.2,124.7 469.0,128.0 C468.8,131.3 467.8,135.7 466.0,138.0 C464.2,140.3 461.0,141.2 458.0,142.0 C455.0,142.8 451.0,142.3 448.0,142.5 C445.0,142.7 443.3,143.1 440.0,143.0 C436.7,142.9 431.7,143.0 428.0,142.0 C424.3,141.0 420.2,139.7 418.0,137.0 C415.8,134.3 414.5,129.5 414.5,126.0 Z" fill="#d8347a" filter="url(#texs)"/>
<circle cx="456.00" cy="126.50" r="10.50" fill="#d42c70" stroke="none" stroke-width="1.00"/>
<path d="M452,118 Q462,116 463,127 Q462,136 454,137" fill="none" stroke="#e45a94" stroke-width="1.4" filter="url(#blur05)"/>
<ellipse cx="442.5" cy="111" rx="5.5" ry="4.5" fill="#d282c0" filter="url(#blur05)"/>
<path d="M438,134 Q444,128 447,140" fill="none" stroke="#e0609a" stroke-width="1" filter="url(#blur05)"/>
<path d="M442.60,127.20 L442.60,124.40 M442.60,127.20 L445.26,126.33 M442.60,127.20 L444.25,129.47 M442.60,127.20 L440.95,129.47 M442.60,127.20 L439.94,126.33 " stroke="#000" stroke-width="1.45" stroke-linecap="round" fill="none"/>
<line x1="49.50" y1="193.70" x2="49.50" y2="300.10" stroke="#111" stroke-width="1.25"/>
<line x1="46.00" y1="299.50" x2="254.30" y2="299.50" stroke="#111" stroke-width="1.25"/>
<line x1="46.00" y1="299.50" x2="49.50" y2="299.50" stroke="#111" stroke-width="1.10"/>
<line x1="46.00" y1="278.90" x2="49.50" y2="278.90" stroke="#111" stroke-width="1.10"/>
<line x1="46.00" y1="258.30" x2="49.50" y2="258.30" stroke="#111" stroke-width="1.10"/>
<line x1="46.00" y1="237.70" x2="49.50" y2="237.70" stroke="#111" stroke-width="1.10"/>
<line x1="46.00" y1="217.10" x2="49.50" y2="217.10" stroke="#111" stroke-width="1.10"/>
<line x1="46.00" y1="196.50" x2="49.50" y2="196.50" stroke="#111" stroke-width="1.10"/>
<line x1="74.80" y1="299.50" x2="74.80" y2="302.20" stroke="#111" stroke-width="1.00"/>
<line x1="113.10" y1="299.50" x2="113.10" y2="302.20" stroke="#111" stroke-width="1.00"/>
<line x1="151.50" y1="299.50" x2="151.50" y2="302.20" stroke="#111" stroke-width="1.00"/>
<line x1="190.00" y1="299.50" x2="190.00" y2="302.20" stroke="#111" stroke-width="1.00"/>
<line x1="228.40" y1="299.50" x2="228.40" y2="302.20" stroke="#111" stroke-width="1.00"/>
<line x1="62.10" y1="203.40" x2="240.60" y2="203.40" stroke="#262626" stroke-width="1.00"/>
<circle cx="74.80" cy="262.60" r="2.05" fill="none" stroke="#b01e44" stroke-width="1.10"/>
<circle cx="74.80" cy="274.30" r="2.05" fill="none" stroke="#b01e44" stroke-width="1.10"/>
<circle cx="69.50" cy="285.70" r="2.05" fill="none" stroke="#b01e44" stroke-width="1.10"/>
<circle cx="74.80" cy="287.00" r="2.05" fill="none" stroke="#b01e44" stroke-width="1.10"/>
<circle cx="79.80" cy="290.00" r="2.05" fill="none" stroke="#b01e44" stroke-width="1.10"/>
<circle cx="74.80" cy="293.30" r="2.05" fill="none" stroke="#b01e44" stroke-width="1.10"/>
<circle cx="69.50" cy="295.90" r="2.05" fill="none" stroke="#b01e44" stroke-width="1.10"/>
<circle cx="79.80" cy="296.40" r="2.05" fill="none" stroke="#b01e44" stroke-width="1.10"/>
<circle cx="64.10" cy="299.40" r="2.05" fill="none" stroke="#b01e44" stroke-width="1.10"/>
<circle cx="74.80" cy="298.80" r="2.05" fill="none" stroke="#b01e44" stroke-width="1.10"/>
<circle cx="85.40" cy="299.40" r="2.05" fill="none" stroke="#b01e44" stroke-width="1.10"/>
<circle cx="102.60" cy="299.20" r="2.05" fill="none" stroke="#b01e44" stroke-width="1.10"/>
<circle cx="109.50" cy="296.90" r="2.05" fill="none" stroke="#b01e44" stroke-width="1.10"/>
<circle cx="113.10" cy="289.20" r="2.05" fill="none" stroke="#b01e44" stroke-width="1.10"/>
<circle cx="116.60" cy="299.20" r="2.05" fill="none" stroke="#b01e44" stroke-width="1.10"/>
<circle cx="123.50" cy="299.20" r="2.05" fill="none" stroke="#b01e44" stroke-width="1.10"/>
<circle cx="140.80" cy="299.20" r="2.05" fill="none" stroke="#b01e44" stroke-width="1.10"/>
<circle cx="151.50" cy="281.10" r="2.05" fill="none" stroke="#b01e44" stroke-width="1.10"/>
<circle cx="151.50" cy="294.60" r="2.05" fill="none" stroke="#b01e44" stroke-width="1.10"/>
<circle cx="161.80" cy="296.20" r="2.05" fill="none" stroke="#b01e44" stroke-width="1.10"/>
<circle cx="190.00" cy="222.30" r="2.05" fill="none" stroke="#b01e44" stroke-width="1.10"/>
<circle cx="186.00" cy="252.00" r="2.05" fill="none" stroke="#b01e44" stroke-width="1.10"/>
<circle cx="193.30" cy="253.30" r="2.05" fill="none" stroke="#b01e44" stroke-width="1.10"/>
<circle cx="186.00" cy="278.50" r="2.05" fill="none" stroke="#b01e44" stroke-width="1.10"/>
<circle cx="193.30" cy="277.00" r="2.05" fill="none" stroke="#b01e44" stroke-width="1.10"/>
<circle cx="179.20" cy="291.60" r="2.05" fill="none" stroke="#b01e44" stroke-width="1.10"/>
<circle cx="186.40" cy="293.80" r="2.05" fill="none" stroke="#b01e44" stroke-width="1.10"/>
<circle cx="179.20" cy="298.60" r="2.05" fill="none" stroke="#b01e44" stroke-width="1.10"/>
<circle cx="193.30" cy="297.70" r="2.05" fill="none" stroke="#b01e44" stroke-width="1.10"/>
<circle cx="200.60" cy="297.50" r="2.05" fill="none" stroke="#b01e44" stroke-width="1.10"/>
<circle cx="224.50" cy="222.70" r="2.05" fill="none" stroke="#b01e44" stroke-width="1.10"/>
<circle cx="231.80" cy="223.60" r="2.05" fill="none" stroke="#b01e44" stroke-width="1.10"/>
<circle cx="224.50" cy="237.30" r="2.05" fill="none" stroke="#b01e44" stroke-width="1.10"/>
<circle cx="231.80" cy="237.80" r="2.05" fill="none" stroke="#b01e44" stroke-width="1.10"/>
<circle cx="228.40" cy="249.10" r="2.05" fill="none" stroke="#b01e44" stroke-width="1.10"/>
<circle cx="228.40" cy="255.10" r="2.05" fill="none" stroke="#b01e44" stroke-width="1.10"/>
<circle cx="224.50" cy="265.50" r="2.05" fill="none" stroke="#b01e44" stroke-width="1.10"/>
<circle cx="228.40" cy="271.60" r="2.05" fill="none" stroke="#b01e44" stroke-width="1.10"/>
<circle cx="228.40" cy="278.90" r="2.05" fill="none" stroke="#b01e44" stroke-width="1.10"/>
<circle cx="224.50" cy="292.20" r="2.05" fill="none" stroke="#b01e44" stroke-width="1.10"/>
<circle cx="231.80" cy="296.20" r="2.05" fill="none" stroke="#b01e44" stroke-width="1.10"/>
<circle cx="224.50" cy="298.90" r="2.05" fill="none" stroke="#b01e44" stroke-width="1.10"/>
<circle cx="217.40" cy="225.40" r="2.60" fill="#b01e44" stroke="none" stroke-width="1.00"/>
<circle cx="238.80" cy="226.00" r="2.60" fill="#b01e44" stroke="none" stroke-width="1.00"/>
<circle cx="224.50" cy="231.80" r="2.60" fill="#b01e44" stroke="none" stroke-width="1.00"/>
<circle cx="231.80" cy="229.00" r="2.60" fill="#b01e44" stroke="none" stroke-width="1.00"/>
<circle cx="231.80" cy="263.90" r="2.60" fill="#b01e44" stroke="none" stroke-width="1.00"/>
<line x1="62.10" y1="293.90" x2="87.50" y2="293.90" stroke="#151515" stroke-width="1.30"/>
<line x1="138.90" y1="295.80" x2="162.30" y2="295.80" stroke="#151515" stroke-width="1.30"/>
<line x1="177.40" y1="285.00" x2="202.80" y2="285.00" stroke="#151515" stroke-width="1.30"/>
<line x1="215.70" y1="249.30" x2="240.90" y2="249.30" stroke="#151515" stroke-width="1.30"/>
<line x1="306.70" y1="207.45" x2="389.70" y2="207.45" stroke="#363636" stroke-width="1.00"/>
<line x1="394.00" y1="207.45" x2="473.00" y2="207.45" stroke="#363636" stroke-width="1.00"/>
<clipPath id="c1"><rect x="302.5" y="212" width="175" height="32.3"/></clipPath>
<clipPath id="c2"><rect x="302.5" y="249.4" width="175" height="17.9"/></clipPath>
<clipPath id="c3"><rect x="302.5" y="273" width="175" height="30.6"/></clipPath>
<filter id="bb" x="-5%" y="-20%" width="110%" height="140%"><feGaussianBlur stdDeviation="1.1 0.6"/></filter>
<filter id="bb2" x="-5%" y="-20%" width="110%" height="140%"><feGaussianBlur stdDeviation="0.9 0.6"/></filter>
<linearGradient id="tfL" x1="0" y1="0" x2="0" y2="1"><stop offset="0" stop-color="#e6e6e6"/><stop offset="0.1" stop-color="#d4d4d4"/><stop offset="0.2" stop-color="#b0b0b0"/><stop offset="0.3" stop-color="#9a9a9a"/><stop offset="0.38" stop-color="#888888"/><stop offset="0.45" stop-color="#5c5c5c"/><stop offset="0.5" stop-color="#6a6a6a"/><stop offset="0.54" stop-color="#8c8c8c"/><stop offset="0.6" stop-color="#343434"/><stop offset="0.66" stop-color="#262626"/><stop offset="0.72" stop-color="#7a7a7a"/><stop offset="0.78" stop-color="#c8c8c8"/><stop offset="1" stop-color="#dcdcdc"/></linearGradient>
<linearGradient id="tfR" x1="0" y1="0" x2="0" y2="1"><stop offset="0" stop-color="#e4e4e4"/><stop offset="0.08" stop-color="#c8c8c8"/><stop offset="0.17" stop-color="#a6a6a6"/><stop offset="0.3" stop-color="#969696"/><stop offset="0.42" stop-color="#909090"/><stop offset="0.5" stop-color="#7a7a7a"/><stop offset="0.56" stop-color="#6c6c6c"/><stop offset="0.62" stop-color="#8a8a8a"/><stop offset="0.7" stop-color="#c2c2c2"/><stop offset="1" stop-color="#dcdcdc"/></linearGradient>
<g clip-path="url(#c1)">
<rect x="302.50" y="212.00" width="175.00" height="32.30" fill="#e4e4e4"/>
<g filter="url(#bb)">
<rect x="306.50" y="212.00" width="20.50" height="32.30" fill="url(#tfL)"/>
<rect x="329.00" y="212.00" width="20.50" height="32.30" fill="url(#tfL)"/>
<rect x="351.50" y="212.00" width="19.50" height="32.30" fill="url(#tfL)"/>
<rect x="373.00" y="212.00" width="19.50" height="32.30" fill="url(#tfL)"/>
<rect x="394.00" y="212.00" width="18.50" height="32.30" fill="url(#tfR)"/>
<rect x="414.50" y="212.00" width="18.50" height="32.30" fill="url(#tfR)"/>
<rect x="435.00" y="212.00" width="18.50" height="32.30" fill="url(#tfR)"/>
<rect x="456.00" y="212.00" width="19.00" height="32.30" fill="url(#tfR)"/>
</g>
<rect x="326.5" y="212" width="2.8" height="32.3" fill="#f4f4f4" opacity="0.9" filter="url(#bb2)"/>
<rect x="348.8" y="212" width="2.8" height="32.3" fill="#f4f4f4" opacity="0.9" filter="url(#bb2)"/>
<rect x="370.6" y="212" width="2.8" height="32.3" fill="#f4f4f4" opacity="0.9" filter="url(#bb2)"/>
<rect x="391.9" y="212" width="2.8" height="32.3" fill="#f4f4f4" opacity="0.9" filter="url(#bb2)"/>
<rect x="412.1" y="212" width="2.8" height="32.3" fill="#f4f4f4" opacity="0.9" filter="url(#bb2)"/>
<rect x="432.6" y="212" width="2.8" height="32.3" fill="#f4f4f4" opacity="0.9" filter="url(#bb2)"/>
<rect x="453.3" y="212" width="2.8" height="32.3" fill="#f4f4f4" opacity="0.9" filter="url(#bb2)"/>
<rect x="474.6" y="212" width="2.8" height="32.3" fill="#f4f4f4" opacity="0.9" filter="url(#bb2)"/>
</g>
<g clip-path="url(#c2)">
<rect x="302.50" y="249.40" width="175.00" height="17.90" fill="#e3e3e3"/>
<g filter="url(#bb2)">
<rect x="394.50" y="255.30" width="17.50" height="3.00" fill="#7a7a7a"/>
<rect x="415.00" y="255.30" width="17.50" height="3.00" fill="#7a7a7a"/>
<rect x="435.50" y="255.30" width="17.50" height="3.00" fill="#7a7a7a"/>
<rect x="456.50" y="255.30" width="18.00" height="3.00" fill="#5a5a5a"/>
</g>
<rect x="326.8" y="249.4" width="2.2" height="17.9" fill="#f4f4f4" filter="url(#bb2)"/>
<rect x="349.1" y="249.4" width="2.2" height="17.9" fill="#f4f4f4" filter="url(#bb2)"/>
<rect x="370.9" y="249.4" width="2.2" height="17.9" fill="#f4f4f4" filter="url(#bb2)"/>
<rect x="392.2" y="249.4" width="2.2" height="17.9" fill="#f4f4f4" filter="url(#bb2)"/>
<rect x="412.4" y="249.4" width="2.2" height="17.9" fill="#f4f4f4" filter="url(#bb2)"/>
<rect x="432.9" y="249.4" width="2.2" height="17.9" fill="#f4f4f4" filter="url(#bb2)"/>
<rect x="453.6" y="249.4" width="2.2" height="17.9" fill="#f4f4f4" filter="url(#bb2)"/>
<rect x="474.9" y="249.4" width="2.2" height="17.9" fill="#f4f4f4" filter="url(#bb2)"/>
<circle cx="307.50" cy="254.50" r="2.20" fill="#cacaca" stroke="none" stroke-width="1.00"/>
</g>
<g clip-path="url(#c3)">
<linearGradient id="acB" x1="0" y1="0" x2="0" y2="1"><stop offset="0" stop-color="#dedede"/><stop offset="0.4" stop-color="#e2e2e2"/><stop offset="1" stop-color="#eaeaea"/></linearGradient>
<rect x="302.50" y="273.00" width="175.00" height="30.60" fill="url(#acB)"/>
<filter id="bb3" x="-5%" y="-30%" width="110%" height="160%"><feGaussianBlur stdDeviation="0.9 0.75"/></filter>
<g filter="url(#bb3)">
<path d="M307.5,286.6 Q316.8,288.0 326.2,285.6 L326.2,290.6 Q316.8,292.1 307.5,291.2 Z" fill="#2a2a2a" />
<path d="M330.0,286.6 Q339.2,288.0 348.7,285.6 L348.7,290.6 Q339.2,292.1 330.0,291.2 Z" fill="#2a2a2a" />
<path d="M352.5,285.3 Q361.2,286.7 370.2,284.3 L370.2,289.3 Q361.2,290.8 352.5,289.9 Z" fill="#2a2a2a" />
<path d="M374.0,285.3 Q382.8,286.7 391.7,284.3 L391.7,289.3 Q382.8,290.8 374.0,289.9 Z" fill="#2a2a2a" />
<path d="M395.0,285.3 Q403.2,286.7 411.7,284.3 L411.7,289.3 Q403.2,290.8 395.0,289.9 Z" fill="#2a2a2a" />
<path d="M415.5,285.3 Q423.8,286.7 432.2,284.3 L432.2,289.3 Q423.8,290.8 415.5,289.9 Z" fill="#2a2a2a" />
<path d="M436.0,285.3 Q444.2,286.7 452.7,284.3 L452.7,289.3 Q444.2,290.8 436.0,289.9 Z" fill="#2a2a2a" />
<path d="M457.0,285.3 Q465.5,286.7 474.2,284.3 L474.2,289.3 Q465.5,290.8 457.0,289.9 Z" fill="#2a2a2a" />
</g>
<rect x="326.7" y="273" width="2.4" height="30.6" fill="#f4f4f4" opacity="0.8" filter="url(#bb2)"/>
<rect x="349.0" y="273" width="2.4" height="30.6" fill="#f4f4f4" opacity="0.8" filter="url(#bb2)"/>
<rect x="370.8" y="273" width="2.4" height="30.6" fill="#f4f4f4" opacity="0.8" filter="url(#bb2)"/>
<rect x="392.1" y="273" width="2.4" height="30.6" fill="#f4f4f4" opacity="0.8" filter="url(#bb2)"/>
<rect x="412.3" y="273" width="2.4" height="30.6" fill="#f4f4f4" opacity="0.8" filter="url(#bb2)"/>
<rect x="432.8" y="273" width="2.4" height="30.6" fill="#f4f4f4" opacity="0.8" filter="url(#bb2)"/>
<rect x="453.5" y="273" width="2.4" height="30.6" fill="#f4f4f4" opacity="0.8" filter="url(#bb2)"/>
<rect x="474.8" y="273" width="2.4" height="30.6" fill="#f4f4f4" opacity="0.8" filter="url(#bb2)"/>
</g>
<rect x="302.60" y="212.40" width="175.20" height="32.00" fill="none" stroke="#000" stroke-width="1.4"/>
<rect x="302.60" y="249.60" width="175.20" height="17.80" fill="none" stroke="#000" stroke-width="1.4"/>
<rect x="302.60" y="273.10" width="175.20" height="30.50" fill="none" stroke="#000" stroke-width="1.4"/>
<line x1="477.50" y1="230.10" x2="481.00" y2="230.10" stroke="#000" stroke-width="1.10"/>
<line x1="477.50" y1="255.10" x2="481.00" y2="255.10" stroke="#000" stroke-width="1.10"/>
<line x1="477.50" y1="285.20" x2="481.00" y2="285.20" stroke="#000" stroke-width="1.10"/>
<line x1="49.50" y1="362.30" x2="49.50" y2="470.60" stroke="#111" stroke-width="1.25"/>
<line x1="46.00" y1="470.00" x2="250.90" y2="470.00" stroke="#111" stroke-width="1.30"/>
<line x1="46.00" y1="470.00" x2="49.50" y2="470.00" stroke="#111" stroke-width="1.10"/>
<line x1="47.60" y1="462.14" x2="49.50" y2="462.14" stroke="#333" stroke-width="0.80"/>
<line x1="47.60" y1="457.55" x2="49.50" y2="457.55" stroke="#333" stroke-width="0.80"/>
<line x1="47.60" y1="454.29" x2="49.50" y2="454.29" stroke="#333" stroke-width="0.80"/>
<line x1="47.60" y1="451.76" x2="49.50" y2="451.76" stroke="#333" stroke-width="0.80"/>
<line x1="47.60" y1="449.69" x2="49.50" y2="449.69" stroke="#333" stroke-width="0.80"/>
<line x1="47.60" y1="447.94" x2="49.50" y2="447.94" stroke="#333" stroke-width="0.80"/>
<line x1="47.60" y1="446.43" x2="49.50" y2="446.43" stroke="#333" stroke-width="0.80"/>
<line x1="47.60" y1="445.09" x2="49.50" y2="445.09" stroke="#333" stroke-width="0.80"/>
<line x1="46.00" y1="443.90" x2="49.50" y2="443.90" stroke="#111" stroke-width="1.10"/>
<line x1="47.60" y1="436.04" x2="49.50" y2="436.04" stroke="#333" stroke-width="0.80"/>
<line x1="47.60" y1="431.45" x2="49.50" y2="431.45" stroke="#333" stroke-width="0.80"/>
<line x1="47.60" y1="428.19" x2="49.50" y2="428.19" stroke="#333" stroke-width="0.80"/>
<line x1="47.60" y1="425.66" x2="49.50" y2="425.66" stroke="#333" stroke-width="0.80"/>
<line x1="47.60" y1="423.59" x2="49.50" y2="423.59" stroke="#333" stroke-width="0.80"/>
<line x1="47.60" y1="421.84" x2="49.50" y2="421.84" stroke="#333" stroke-width="0.80"/>
<line x1="47.60" y1="420.33" x2="49.50" y2="420.33" stroke="#333" stroke-width="0.80"/>
<line x1="47.60" y1="418.99" x2="49.50" y2="418.99" stroke="#333" stroke-width="0.80"/>
<line x1="46.00" y1="417.80" x2="49.50" y2="417.80" stroke="#111" stroke-width="1.10"/>
<line x1="47.60" y1="409.94" x2="49.50" y2="409.94" stroke="#333" stroke-width="0.80"/>
<line x1="47.60" y1="405.35" x2="49.50" y2="405.35" stroke="#333" stroke-width="0.80"/>
<line x1="47.60" y1="402.09" x2="49.50" y2="402.09" stroke="#333" stroke-width="0.80"/>
<line x1="47.60" y1="399.56" x2="49.50" y2="399.56" stroke="#333" stroke-width="0.80"/>
<line x1="47.60" y1="397.49" x2="49.50" y2="397.49" stroke="#333" stroke-width="0.80"/>
<line x1="47.60" y1="395.74" x2="49.50" y2="395.74" stroke="#333" stroke-width="0.80"/>
<line x1="47.60" y1="394.23" x2="49.50" y2="394.23" stroke="#333" stroke-width="0.80"/>
<line x1="47.60" y1="392.89" x2="49.50" y2="392.89" stroke="#333" stroke-width="0.80"/>
<line x1="46.00" y1="391.60" x2="49.50" y2="391.60" stroke="#111" stroke-width="1.10"/>
<line x1="47.60" y1="383.74" x2="49.50" y2="383.74" stroke="#333" stroke-width="0.80"/>
<line x1="47.60" y1="379.15" x2="49.50" y2="379.15" stroke="#333" stroke-width="0.80"/>
<line x1="47.60" y1="375.89" x2="49.50" y2="375.89" stroke="#333" stroke-width="0.80"/>
<line x1="47.60" y1="373.36" x2="49.50" y2="373.36" stroke="#333" stroke-width="0.80"/>
<line x1="47.60" y1="371.29" x2="49.50" y2="371.29" stroke="#333" stroke-width="0.80"/>
<line x1="47.60" y1="369.54" x2="49.50" y2="369.54" stroke="#333" stroke-width="0.80"/>
<line x1="47.60" y1="368.03" x2="49.50" y2="368.03" stroke="#333" stroke-width="0.80"/>
<line x1="47.60" y1="366.69" x2="49.50" y2="366.69" stroke="#333" stroke-width="0.80"/>
<line x1="46.00" y1="365.50" x2="49.50" y2="365.50" stroke="#111" stroke-width="1.10"/>
<rect x="58.70" y="392.10" width="16.00" height="77.90" fill="#a8002e"/>
<line x1="66.70" y1="392.10" x2="66.70" y2="390.30" stroke="#333" stroke-width="1.00"/>
<line x1="61.50" y1="390.30" x2="71.00" y2="390.30" stroke="#333" stroke-width="1.10"/>
<rect x="85.20" y="464.20" width="16.00" height="5.80" fill="#294886"/>
<line x1="93.20" y1="464.20" x2="93.20" y2="459.00" stroke="#333" stroke-width="1.00"/>
<line x1="88.40" y1="459.00" x2="97.60" y2="459.00" stroke="#333" stroke-width="1.10"/>
<rect x="128.80" y="391.80" width="16.20" height="78.20" fill="#a8002e"/>
<line x1="136.90" y1="391.80" x2="136.90" y2="389.50" stroke="#333" stroke-width="1.00"/>
<line x1="132.50" y1="389.50" x2="141.30" y2="389.50" stroke="#333" stroke-width="1.10"/>
<rect x="155.00" y="390.80" width="16.30" height="79.20" fill="#294886"/>
<line x1="163.15" y1="390.80" x2="163.15" y2="388.30" stroke="#333" stroke-width="1.00"/>
<line x1="158.80" y1="388.30" x2="167.50" y2="388.30" stroke="#333" stroke-width="1.10"/>
<rect x="199.30" y="391.80" width="15.70" height="78.20" fill="#a8002e"/>
<line x1="207.15" y1="391.80" x2="207.15" y2="390.30" stroke="#333" stroke-width="1.00"/>
<line x1="202.50" y1="390.30" x2="211.30" y2="390.30" stroke="#333" stroke-width="1.10"/>
<rect x="225.00" y="465.50" width="16.30" height="4.50" fill="#294886"/>
<line x1="233.15" y1="465.50" x2="233.15" y2="460.50" stroke="#333" stroke-width="1.00"/>
<line x1="231.30" y1="460.50" x2="237.00" y2="460.50" stroke="#333" stroke-width="1.10"/>
<line x1="46.00" y1="470.00" x2="250.90" y2="470.00" stroke="#111" stroke-width="1.30"/>
<line x1="79.90" y1="470.00" x2="79.90" y2="472.80" stroke="#111" stroke-width="1.00"/>
<line x1="150.00" y1="470.00" x2="150.00" y2="472.80" stroke="#111" stroke-width="1.00"/>
<line x1="220.00" y1="470.00" x2="220.00" y2="472.80" stroke="#111" stroke-width="1.00"/>
<line x1="62.10" y1="380.20" x2="97.30" y2="380.20" stroke="#333" stroke-width="1.10"/>
<line x1="202.70" y1="380.20" x2="237.70" y2="380.20" stroke="#333" stroke-width="1.10"/>
<rect x="111.20" y="355.00" width="8.60" height="6.90" fill="#a8002e"/>
<rect x="148.00" y="355.00" width="8.30" height="6.90" fill="#294886"/>
<line x1="301.50" y1="363.30" x2="301.50" y2="470.70" stroke="#111" stroke-width="1.30"/>
<line x1="298.70" y1="470.10" x2="370.80" y2="470.10" stroke="#111" stroke-width="1.30"/>
<line x1="298.70" y1="470.10" x2="301.50" y2="470.10" stroke="#111" stroke-width="1.10"/>
<line x1="298.70" y1="444.40" x2="301.50" y2="444.40" stroke="#111" stroke-width="1.10"/>
<line x1="298.70" y1="418.30" x2="301.50" y2="418.30" stroke="#111" stroke-width="1.10"/>
<line x1="298.70" y1="392.30" x2="301.50" y2="392.30" stroke="#111" stroke-width="1.10"/>
<line x1="298.70" y1="366.10" x2="301.50" y2="366.10" stroke="#111" stroke-width="1.10"/>
<line x1="321.70" y1="470.20" x2="321.70" y2="473.00" stroke="#111" stroke-width="1.00"/>
<line x1="351.30" y1="470.20" x2="351.30" y2="473.00" stroke="#111" stroke-width="1.00"/>
<line x1="311.90" y1="379.30" x2="361.40" y2="379.30" stroke="#262626" stroke-width="1.00"/>
<circle cx="321.70" cy="393.20" r="1.35" fill="#1f3f86" stroke="none" stroke-width="1.00"/>
<circle cx="315.20" cy="416.50" r="1.35" fill="#1f3f86" stroke="none" stroke-width="1.00"/>
<circle cx="321.70" cy="416.50" r="1.35" fill="#1f3f86" stroke="none" stroke-width="1.00"/>
<circle cx="328.40" cy="416.50" r="1.35" fill="#1f3f86" stroke="none" stroke-width="1.00"/>
<circle cx="321.70" cy="419.80" r="1.35" fill="#1f3f86" stroke="none" stroke-width="1.00"/>
<circle cx="328.40" cy="421.40" r="1.35" fill="#1f3f86" stroke="none" stroke-width="1.00"/>
<circle cx="321.70" cy="424.20" r="1.35" fill="#1f3f86" stroke="none" stroke-width="1.00"/>
<circle cx="321.70" cy="430.30" r="1.35" fill="#1f3f86" stroke="none" stroke-width="1.00"/>
<circle cx="351.30" cy="419.80" r="1.35" fill="#b01238" stroke="none" stroke-width="1.00"/>
<circle cx="351.30" cy="425.20" r="1.35" fill="#b01238" stroke="none" stroke-width="1.00"/>
<circle cx="345.00" cy="428.30" r="1.35" fill="#b01238" stroke="none" stroke-width="1.00"/>
<circle cx="351.30" cy="431.30" r="1.35" fill="#b01238" stroke="none" stroke-width="1.00"/>
<circle cx="357.80" cy="431.10" r="1.35" fill="#b01238" stroke="none" stroke-width="1.00"/>
<circle cx="357.80" cy="437.80" r="1.35" fill="#b01238" stroke="none" stroke-width="1.00"/>
<circle cx="351.30" cy="440.40" r="1.35" fill="#b01238" stroke="none" stroke-width="1.00"/>
<circle cx="351.30" cy="444.50" r="1.35" fill="#b01238" stroke="none" stroke-width="1.00"/>
<line x1="312.20" y1="417.90" x2="331.40" y2="417.90" stroke="#111" stroke-width="1.20"/>
<line x1="341.60" y1="431.30" x2="360.90" y2="431.30" stroke="#111" stroke-width="1.20"/>
<line x1="421.50" y1="363.30" x2="421.50" y2="470.70" stroke="#111" stroke-width="1.30"/>
<line x1="418.70" y1="470.20" x2="490.70" y2="470.20" stroke="#111" stroke-width="1.30"/>
<line x1="418.70" y1="470.20" x2="421.50" y2="470.20" stroke="#111" stroke-width="1.10"/>
<line x1="418.70" y1="444.50" x2="421.50" y2="444.50" stroke="#111" stroke-width="1.10"/>
<line x1="418.70" y1="419.00" x2="421.50" y2="419.00" stroke="#111" stroke-width="1.10"/>
<line x1="418.70" y1="393.50" x2="421.50" y2="393.50" stroke="#111" stroke-width="1.10"/>
<line x1="418.70" y1="366.40" x2="421.50" y2="366.40" stroke="#111" stroke-width="1.10"/>
<line x1="441.90" y1="470.20" x2="441.90" y2="473.00" stroke="#111" stroke-width="1.00"/>
<line x1="471.30" y1="470.20" x2="471.30" y2="473.00" stroke="#111" stroke-width="1.00"/>
<line x1="431.90" y1="375.60" x2="481.30" y2="375.60" stroke="#262626" stroke-width="1.00"/>
<circle cx="441.90" cy="406.00" r="1.35" fill="#1f3f86" stroke="none" stroke-width="1.00"/>
<circle cx="441.90" cy="429.10" r="1.35" fill="#1f3f86" stroke="none" stroke-width="1.00"/>
<circle cx="438.90" cy="454.60" r="1.35" fill="#1f3f86" stroke="none" stroke-width="1.00"/>
<circle cx="445.00" cy="454.60" r="1.35" fill="#1f3f86" stroke="none" stroke-width="1.00"/>
<circle cx="438.90" cy="462.40" r="1.35" fill="#1f3f86" stroke="none" stroke-width="1.00"/>
<circle cx="445.00" cy="460.30" r="1.35" fill="#1f3f86" stroke="none" stroke-width="1.00"/>
<circle cx="445.00" cy="463.60" r="1.35" fill="#1f3f86" stroke="none" stroke-width="1.00"/>
<circle cx="441.90" cy="466.60" r="1.35" fill="#1f3f86" stroke="none" stroke-width="1.00"/>
<circle cx="471.30" cy="388.10" r="1.35" fill="#b01238" stroke="none" stroke-width="1.00"/>
<circle cx="471.30" cy="420.20" r="1.35" fill="#b01238" stroke="none" stroke-width="1.00"/>
<circle cx="468.30" cy="431.70" r="1.35" fill="#b01238" stroke="none" stroke-width="1.00"/>
<circle cx="474.40" cy="430.30" r="1.35" fill="#b01238" stroke="none" stroke-width="1.00"/>
<circle cx="471.30" cy="437.80" r="1.35" fill="#b01238" stroke="none" stroke-width="1.00"/>
<circle cx="465.00" cy="444.50" r="1.35" fill="#b01238" stroke="none" stroke-width="1.00"/>
<circle cx="471.30" cy="443.50" r="1.35" fill="#b01238" stroke="none" stroke-width="1.00"/>
<circle cx="477.80" cy="443.50" r="1.35" fill="#b01238" stroke="none" stroke-width="1.00"/>
<line x1="432.20" y1="457.10" x2="451.80" y2="457.10" stroke="#111" stroke-width="1.20"/>
<line x1="461.60" y1="434.80" x2="480.90" y2="434.80" stroke="#111" stroke-width="1.20"/>
<text x="7.20" y="17.70" font-size="12.06" font-weight="bold" fill="#000" textLength="8.92" lengthAdjust="spacingAndGlyphs">A</text>
<text x="7.07" y="188.90" font-size="11.63" font-weight="bold" fill="#000" textLength="9.10" lengthAdjust="spacingAndGlyphs">B</text>
<text x="6.89" y="351.50" font-size="11.30" font-weight="bold" fill="#000" textLength="9.05" lengthAdjust="spacingAndGlyphs">C</text>
<text x="269.07" y="189.00" font-size="11.92" font-weight="bold" fill="#000" textLength="10.22" lengthAdjust="spacingAndGlyphs">D</text>
<text x="266.04" y="352.20" font-size="11.34" font-weight="bold" fill="#000" textLength="8.66" lengthAdjust="spacingAndGlyphs">E</text>
<text x="385.95" y="352.20" font-size="11.34" font-weight="bold" fill="#000" textLength="8.76" lengthAdjust="spacingAndGlyphs">F</text>
<text x="79.25" y="16.80" font-size="8.14" font-weight="normal" fill="#111" stroke="#111" stroke-width="0.18" textLength="12.38" lengthAdjust="spacingAndGlyphs">FXI</text>
<text x="91.43" y="13.60" font-size="4.60" font-weight="normal" fill="#222" textLength="6.61" lengthAdjust="spacingAndGlyphs">+/-</text>
<text x="167.35" y="16.80" font-size="8.14" font-weight="normal" fill="#111" stroke="#111" stroke-width="0.18" textLength="12.27" lengthAdjust="spacingAndGlyphs">FXI</text>
<text x="179.89" y="13.80" font-size="4.60" font-weight="normal" fill="#222" textLength="4.52" lengthAdjust="spacingAndGlyphs">-/-</text>
<text x="247.36" y="16.80" font-size="8.14" font-weight="normal" fill="#111" stroke="#111" stroke-width="0.18" textLength="27.45" lengthAdjust="spacingAndGlyphs">LTF;FXI</text>
<text x="274.48" y="14.00" font-size="4.60" font-weight="normal" fill="#222" textLength="5.52" lengthAdjust="spacingAndGlyphs">+/-</text>
<text x="376.67" y="16.80" font-size="8.14" font-weight="normal" fill="#111" stroke="#111" stroke-width="0.18" textLength="27.14" lengthAdjust="spacingAndGlyphs">LTF;FXI</text>
<text x="403.71" y="14.00" font-size="4.60" font-weight="normal" fill="#222" textLength="3.97" lengthAdjust="spacingAndGlyphs">-/-</text>
<text x="44.80" y="70.86" font-size="8.43" font-weight="normal" fill="#111" stroke="#111" stroke-width="0.18" textLength="24.54" lengthAdjust="spacingAndGlyphs" transform="rotate(-90 44.80 70.86)">Litter 1</text>
<text x="44.90" y="139.10" font-size="8.43" font-weight="normal" fill="#111" stroke="#111" stroke-width="0.18" textLength="26.02" lengthAdjust="spacingAndGlyphs" transform="rotate(-90 44.90 139.10)">Litter 2</text>
<text x="88.09" y="160.30" font-size="7.16" font-weight="normal" fill="#111" stroke="#111" stroke-width="0.18" textLength="18.25" lengthAdjust="spacingAndGlyphs">2mm</text>
<text x="38.29" y="302.70" font-size="7.60" font-weight="normal" fill="#111" stroke="#111" stroke-width="0.18" textLength="4.73" lengthAdjust="spacingAndGlyphs">0</text>
<text x="33.56" y="281.90" font-size="7.60" font-weight="normal" fill="#111" stroke="#111" stroke-width="0.18" textLength="9.47" lengthAdjust="spacingAndGlyphs">20</text>
<text x="33.56" y="261.20" font-size="7.60" font-weight="normal" fill="#111" stroke="#111" stroke-width="0.18" textLength="9.47" lengthAdjust="spacingAndGlyphs">40</text>
<text x="33.56" y="240.50" font-size="7.60" font-weight="normal" fill="#111" stroke="#111" stroke-width="0.18" textLength="9.47" lengthAdjust="spacingAndGlyphs">60</text>
<text x="33.56" y="219.70" font-size="7.60" font-weight="normal" fill="#111" stroke="#111" stroke-width="0.18" textLength="9.47" lengthAdjust="spacingAndGlyphs">80</text>
<text x="28.83" y="199.20" font-size="7.60" font-weight="normal" fill="#111" stroke="#111" stroke-width="0.18" textLength="14.20" lengthAdjust="spacingAndGlyphs">100</text>
<text x="22.90" y="290.37" font-size="10.47" font-weight="normal" fill="#1a1a1a" stroke="#111" stroke-width="0.18" textLength="87.70" lengthAdjust="spacingAndGlyphs" transform="rotate(-90 22.90 290.37)">Relative blood pool area (%)</text>
<text x="68.49" y="312.90" font-size="7.70" font-weight="normal" fill="#111" stroke="#111" stroke-width="0.18" textLength="12.71" lengthAdjust="spacingAndGlyphs">LTF</text>
<text x="62.56" y="322.40" font-size="7.70" font-weight="normal" fill="#111" stroke="#111" stroke-width="0.18" textLength="24.89" lengthAdjust="spacingAndGlyphs">(n=11)</text>
<text x="96.48" y="312.90" font-size="7.70" font-weight="normal" fill="#111" stroke="#111" stroke-width="0.18" textLength="26.88" lengthAdjust="spacingAndGlyphs">LTF;FIX</text>
<text x="123.76" y="310.80" font-size="4.60" font-weight="normal" fill="#222" textLength="5.96" lengthAdjust="spacingAndGlyphs">+/-</text>
<text x="103.26" y="322.40" font-size="7.70" font-weight="normal" fill="#111" stroke="#111" stroke-width="0.18" textLength="20.48" lengthAdjust="spacingAndGlyphs">(n=5)</text>
<text x="135.08" y="312.90" font-size="7.70" font-weight="normal" fill="#111" stroke="#111" stroke-width="0.18" textLength="26.88" lengthAdjust="spacingAndGlyphs">LTF;FIX</text>
<text x="162.40" y="311.20" font-size="4.60" font-weight="normal" fill="#222" textLength="5.11" lengthAdjust="spacingAndGlyphs">-/y</text>
<text x="141.46" y="322.40" font-size="7.70" font-weight="normal" fill="#111" stroke="#111" stroke-width="0.18" textLength="20.48" lengthAdjust="spacingAndGlyphs">(n=4)</text>
<text x="173.36" y="312.90" font-size="7.70" font-weight="normal" fill="#111" stroke="#111" stroke-width="0.18" textLength="27.77" lengthAdjust="spacingAndGlyphs">LTF;FXI</text>
<text x="200.60" y="310.80" font-size="4.60" font-weight="normal" fill="#222" textLength="5.09" lengthAdjust="spacingAndGlyphs">+/-</text>
<text x="177.17" y="322.40" font-size="7.70" font-weight="normal" fill="#111" stroke="#111" stroke-width="0.18" textLength="24.86" lengthAdjust="spacingAndGlyphs">(n=10)</text>
<text x="212.36" y="312.90" font-size="7.70" font-weight="normal" fill="#111" stroke="#111" stroke-width="0.18" textLength="27.56" lengthAdjust="spacingAndGlyphs">LTF;FXI</text>
<text x="239.70" y="310.80" font-size="4.60" font-weight="normal" fill="#222" textLength="4.30" lengthAdjust="spacingAndGlyphs">-/-</text>
<text x="215.58" y="322.40" font-size="7.70" font-weight="normal" fill="#111" stroke="#111" stroke-width="0.18" textLength="24.44" lengthAdjust="spacingAndGlyphs">(n=17)</text>
<text x="338.25" y="201.60" font-size="7.99" font-weight="normal" fill="#111" stroke="#111" stroke-width="0.18" textLength="12.38" lengthAdjust="spacingAndGlyphs">FXI</text>
<text x="350.45" y="199.00" font-size="4.00" font-weight="normal" fill="#222" textLength="7.50" lengthAdjust="spacingAndGlyphs">+/+</text>
<text x="425.44" y="201.60" font-size="7.99" font-weight="normal" fill="#111" stroke="#111" stroke-width="0.18" textLength="12.61" lengthAdjust="spacingAndGlyphs">FXI</text>
<text x="437.69" y="199.30" font-size="4.00" font-weight="normal" fill="#222" textLength="4.41" lengthAdjust="spacingAndGlyphs">-/-</text>
<text x="283.03" y="229.90" font-size="8.14" font-weight="normal" fill="#111" stroke="#111" stroke-width="0.18" textLength="17.10" lengthAdjust="spacingAndGlyphs">TFPI</text>
<text x="269.35" y="263.50" font-size="8.14" font-weight="normal" fill="#111" stroke="#111" stroke-width="0.18" textLength="30.39" lengthAdjust="spacingAndGlyphs">proHGF</text>
<text x="273.81" y="294.40" font-size="8.14" font-weight="normal" fill="#111" stroke="#111" stroke-width="0.18" textLength="26.13" lengthAdjust="spacingAndGlyphs">&#946; Actin</text>
<text x="483.92" y="232.80" font-size="7.27" font-weight="normal" fill="#111" stroke="#111" stroke-width="0.18" textLength="24.08" lengthAdjust="spacingAndGlyphs">44kDa</text>
<text x="483.76" y="258.40" font-size="7.27" font-weight="normal" fill="#111" stroke="#111" stroke-width="0.18" textLength="28.93" lengthAdjust="spacingAndGlyphs">100kDa</text>
<text x="484.09" y="288.00" font-size="7.06" font-weight="normal" fill="#111" stroke="#111" stroke-width="0.18" textLength="23.61" lengthAdjust="spacingAndGlyphs">38kDa</text>
<text x="22.24" y="472.50" font-size="7.30" font-weight="normal" fill="#111" stroke="#111" stroke-width="0.18" textLength="20.46" lengthAdjust="spacingAndGlyphs">0.001</text>
<text x="26.78" y="446.40" font-size="7.30" font-weight="normal" fill="#111" stroke="#111" stroke-width="0.18" textLength="15.91" lengthAdjust="spacingAndGlyphs">0.01</text>
<text x="31.33" y="420.30" font-size="7.30" font-weight="normal" fill="#111" stroke="#111" stroke-width="0.18" textLength="11.37" lengthAdjust="spacingAndGlyphs">0.1</text>
<text x="38.15" y="394.10" font-size="7.30" font-weight="normal" fill="#111" stroke="#111" stroke-width="0.18" textLength="4.55" lengthAdjust="spacingAndGlyphs">1</text>
<text x="33.52" y="368.00" font-size="7.30" font-weight="normal" fill="#111" stroke="#111" stroke-width="0.18" textLength="9.09" lengthAdjust="spacingAndGlyphs">10</text>
<text x="15.90" y="453.66" font-size="10.17" font-weight="normal" fill="#1a1a1a" stroke="#111" stroke-width="0.18" textLength="75.89" lengthAdjust="spacingAndGlyphs" transform="rotate(-90 15.90 453.66)">Relative expression (AU)</text>
<text x="75.15" y="483.30" font-size="7.85" font-weight="normal" fill="#111" stroke="#111" stroke-width="0.18" textLength="9.22" lengthAdjust="spacingAndGlyphs">F9</text>
<text x="142.28" y="483.50" font-size="7.85" font-weight="normal" fill="#111" stroke="#111" stroke-width="0.18" textLength="14.44" lengthAdjust="spacingAndGlyphs">F11</text>
<text x="212.28" y="483.50" font-size="7.85" font-weight="normal" fill="#111" stroke="#111" stroke-width="0.18" textLength="15.16" lengthAdjust="spacingAndGlyphs">F12</text>
<text x="122.39" y="361.20" font-size="7.85" font-weight="normal" fill="#111" stroke="#111" stroke-width="0.18" textLength="16.24" lengthAdjust="spacingAndGlyphs">Liver</text>
<text x="158.98" y="361.20" font-size="7.85" font-weight="normal" fill="#111" stroke="#111" stroke-width="0.18" textLength="29.52" lengthAdjust="spacingAndGlyphs">Placenta</text>
<text x="290.89" y="472.70" font-size="7.60" font-weight="normal" fill="#111" stroke="#111" stroke-width="0.18" textLength="4.73" lengthAdjust="spacingAndGlyphs">0</text>
<text x="286.16" y="447.10" font-size="7.60" font-weight="normal" fill="#111" stroke="#111" stroke-width="0.18" textLength="9.47" lengthAdjust="spacingAndGlyphs">50</text>
<text x="281.43" y="421.00" font-size="7.60" font-weight="normal" fill="#111" stroke="#111" stroke-width="0.18" textLength="14.20" lengthAdjust="spacingAndGlyphs">100</text>
<text x="281.43" y="395.00" font-size="7.60" font-weight="normal" fill="#111" stroke="#111" stroke-width="0.18" textLength="14.20" lengthAdjust="spacingAndGlyphs">150</text>
<text x="281.43" y="368.80" font-size="7.60" font-weight="normal" fill="#111" stroke="#111" stroke-width="0.18" textLength="14.20" lengthAdjust="spacingAndGlyphs">200</text>
<text x="274.80" y="452.55" font-size="9.88" font-weight="normal" fill="#1a1a1a" stroke="#111" stroke-width="0.18" textLength="71.98" lengthAdjust="spacingAndGlyphs" transform="rotate(-90 274.80 452.55)">TFPI densitometry (AU)</text>
<text x="311.45" y="483.40" font-size="7.56" font-weight="normal" fill="#111" stroke="#111" stroke-width="0.18" textLength="12.38" lengthAdjust="spacingAndGlyphs">FXI</text>
<text x="323.33" y="480.60" font-size="4.00" font-weight="normal" fill="#222" textLength="8.04" lengthAdjust="spacingAndGlyphs">+/+</text>
<text x="343.47" y="483.40" font-size="7.56" font-weight="normal" fill="#111" stroke="#111" stroke-width="0.18" textLength="12.04" lengthAdjust="spacingAndGlyphs">FXI</text>
<text x="355.18" y="480.90" font-size="4.00" font-weight="normal" fill="#222" textLength="4.74" lengthAdjust="spacingAndGlyphs">-/-</text>
<text x="411.09" y="472.90" font-size="7.60" font-weight="normal" fill="#111" stroke="#111" stroke-width="0.18" textLength="4.73" lengthAdjust="spacingAndGlyphs">0</text>
<text x="401.63" y="447.20" font-size="7.60" font-weight="normal" fill="#111" stroke="#111" stroke-width="0.18" textLength="14.20" lengthAdjust="spacingAndGlyphs">200</text>
<text x="401.63" y="421.70" font-size="7.60" font-weight="normal" fill="#111" stroke="#111" stroke-width="0.18" textLength="14.20" lengthAdjust="spacingAndGlyphs">400</text>
<text x="401.63" y="396.20" font-size="7.60" font-weight="normal" fill="#111" stroke="#111" stroke-width="0.18" textLength="14.20" lengthAdjust="spacingAndGlyphs">600</text>
<text x="401.63" y="369.00" font-size="7.60" font-weight="normal" fill="#111" stroke="#111" stroke-width="0.18" textLength="14.20" lengthAdjust="spacingAndGlyphs">800</text>
<text x="395.40" y="458.16" font-size="10.17" font-weight="normal" fill="#1a1a1a" stroke="#111" stroke-width="0.18" textLength="81.88" lengthAdjust="spacingAndGlyphs" transform="rotate(-90 395.40 458.16)">ProHGF densitometry (AU)</text>
<text x="431.66" y="483.40" font-size="7.56" font-weight="normal" fill="#111" stroke="#111" stroke-width="0.18" textLength="12.16" lengthAdjust="spacingAndGlyphs">FXI</text>
<text x="443.33" y="480.60" font-size="4.00" font-weight="normal" fill="#222" textLength="8.04" lengthAdjust="spacingAndGlyphs">+/+</text>
<text x="463.15" y="483.40" font-size="7.56" font-weight="normal" fill="#111" stroke="#111" stroke-width="0.18" textLength="12.38" lengthAdjust="spacingAndGlyphs">FXI</text>
<text x="475.18" y="480.90" font-size="4.00" font-weight="normal" fill="#222" textLength="4.74" lengthAdjust="spacingAndGlyphs">-/-</text>
<ellipse cx="151.40" cy="198.60" rx="0.85" ry="0.95" fill="#111"/>
<ellipse cx="78.30" cy="375.80" rx="0.85" ry="0.95" fill="#111"/>
<ellipse cx="81.50" cy="375.80" rx="0.85" ry="0.95" fill="#111"/>
<ellipse cx="218.40" cy="375.80" rx="0.85" ry="0.95" fill="#111"/>
<ellipse cx="221.60" cy="375.80" rx="0.85" ry="0.95" fill="#111"/>
<ellipse cx="333.60" cy="375.30" rx="0.85" ry="0.95" fill="#111"/>
<ellipse cx="336.50" cy="375.30" rx="0.85" ry="0.95" fill="#111"/>
<ellipse cx="339.50" cy="375.30" rx="0.85" ry="0.95" fill="#111"/>
<ellipse cx="452.30" cy="371.50" rx="0.85" ry="0.95" fill="#111"/>
<ellipse cx="455.30" cy="371.50" rx="0.85" ry="0.95" fill="#111"/>
<ellipse cx="458.30" cy="371.50" rx="0.85" ry="0.95" fill="#111"/>
<ellipse cx="461.30" cy="371.50" rx="0.85" ry="0.95" fill="#111"/>
<rect x="0.00" y="0.00" width="1.30" height="493.00" fill="#000"/>
<rect x="0.00" y="0.00" width="520.00" height="1.20" fill="#000"/>
<rect x="518.80" y="0.00" width="1.20" height="493.00" fill="#000"/>
<rect x="0.00" y="491.60" width="520.00" height="1.40" fill="#000"/>
</svg></body></html>
